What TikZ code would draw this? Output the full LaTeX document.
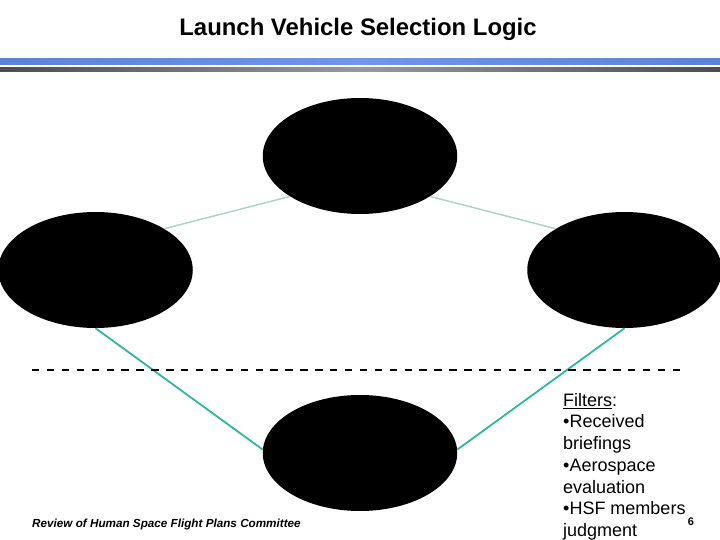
\documentclass[tikz,border=0pt]{standalone}
\usepackage{fontspec}
\setmainfont{Liberation Sans}
\usetikzlibrary{shapes.geometric}
\definecolor{barblue}{HTML}{5B82D6}
\definecolor{barmid}{HTML}{6F96EC}
\definecolor{palelink}{HTML}{A9D6C8}
\definecolor{teallink}{HTML}{2DB89C}
\begin{document}
\begin{tikzpicture}[x=1bp, y=-1bp, n/.style={ellipse, fill=black, inner sep=0pt, minimum width=194.5bp, minimum height=116bp},
		upper/.style={palelink, line width=1.5bp}, lower/.style={teallink, line width=1.8bp}]
	\useasboundingbox (0, 0) rectangle (720, 540);

	\shade[left color=barblue, right color=barblue, middle color=barmid] (0, 58.5) rectangle (720, 65);
	\shade[left color=black!70, right color=black!70, middle color=black!40] (0, 68) rectangle (720, 71.5);

	\node (title) at (358, 29) {\fontsize{23.9bp}{26bp}\selectfont\bfseries Launch Vehicle Selection Logic};

	\node[n] (top) at (360, 156) {};
	\node[n] (left) at (95.5, 270) {};
	\node[n] (right) at (624.5, 270) {};
	\node[n] (bottom) at (360, 453) {};

	\draw[upper] (left.31) -- (top.210);
	\draw[upper] (top.-30) -- (right.149);
	\draw[lower] (left.south) -- (bottom.178);
	\draw[lower] (right.south) -- (bottom.2);

	\coordinate (cutl) at (32, 369.5);
	\coordinate (cutr) at (680, 369.5);
	\draw[line width=2bp, dash pattern=on 7.4bp off 7.5bp] (cutl) -- (cutr);

	\node[anchor=north west, inner sep=0pt, align=left, font=\fontsize{18bp}{21.7bp}\selectfont] (filters) at (563, 393) {\underline{Filters}:\\•Received\\briefings\\•Aerospace\\evaluation\\•HSF members\\judgment};
	\node[anchor=west, inner sep=0pt, font=\fontsize{11.7bp}{13bp}\selectfont\bfseries\itshape] (review) at (32, 524.5) {Review of Human Space Flight Plans Committee};
	\node[inner sep=0pt, font=\fontsize{11bp}{13bp}\selectfont\bfseries] (pagenum) at (691, 522) {6};
\end{tikzpicture}
\end{document}
